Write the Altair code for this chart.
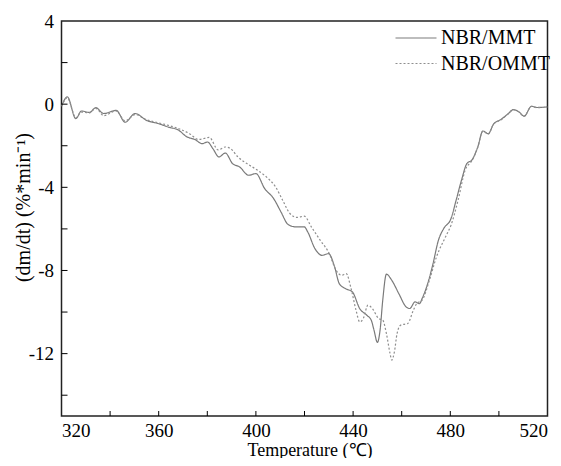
import altair as alt
import pandas as pd

# NBR/MMT (solid)
mmt_x = [320, 322.4, 325.9, 328.2, 331.5, 334.1, 337.4, 342.5, 346.2, 350.3, 355, 360, 363.9, 368.3,
         371.3, 374.9, 377.9, 380.1, 382.3, 384.8, 387.4, 390.4, 393.3, 397, 400, 403.6, 407.3, 410.3,
         413.2, 416.2, 419.9, 421.3, 424.3, 427.2, 429.9, 432.4, 434.3, 436.8, 439.7, 442.7, 445.6,
         447.5, 448.6, 450, 451.1, 452.2, 453.7, 455.9, 458.8, 461.8, 463.3, 465.5, 467.3, 468.4, 470.7,
         472.9, 475.1, 477.3, 480.3, 482.4, 484.6, 486.8, 489, 491.3, 493.4, 495.6, 497.9, 500.8, 503.8,
         506, 508.2, 510.4, 513.4, 515.6, 520]
mmt_y = [-0.1, 0.35, -0.7, -0.33, -0.4, -0.17, -0.45, -0.3, -0.87, -0.45, -0.78, -0.94, -1.1, -1.26,
         -1.55, -1.7, -1.9, -1.82, -2.14, -2.54, -2.35, -2.86, -3.02, -3.42, -3.34, -4.06, -4.54, -5.18,
         -5.78, -5.9, -5.9, -6.14, -6.95, -7.27, -7.19, -7.83, -8.63, -8.87, -9.03, -9.83, -10.15,
         -10.4, -10.87, -11.46, -10.87, -9.43, -8.18, -8.47, -9.11, -9.75, -9.83, -9.51, -9.6, -9.35, -8.63,
         -7.67, -6.55, -5.98, -5.5, -4.62, -3.66, -2.86, -2.67, -2.06, -1.29, -1.42, -0.94, -0.74, -0.46,
         -0.26, -0.37, -0.58, -0.1, -0.16, -0.13]

# NBR/OMMT (dotted)
ommt_x = [320, 322.4, 325.9, 328.2, 331.5, 334.1, 337.4, 342.5, 346.2, 350.3, 355, 360, 364, 368.3,
          372.7, 376.4, 380.8, 384.5, 387.4, 389.6, 392.6, 396.3, 400.7, 404.3, 408.1, 411, 414, 416.9,
          419.9, 422.8, 426.5, 430.2, 433, 435.3, 437.2, 439, 441.2, 442.7, 444.2, 446.1, 447.9, 450.5,
          452.2, 453.7, 455.2, 455.9, 457, 458.1, 459.6, 462.5, 464.8, 466.2, 468.4, 471.4, 474.3, 478,
          480.3, 483.2, 486.1, 489, 491.3, 493.4, 495.6, 497.9, 500.8, 503.8, 506, 508.2, 510.4, 513.4,
          515.6, 520]
ommt_y = [-0.1, 0.3, -0.65, -0.38, -0.42, -0.2, -0.55, -0.33, -0.8, -0.5, -0.75, -0.9, -1.02, -1.18,
          -1.42, -1.7, -1.6, -2.2, -2.06, -2.14, -2.54, -2.86, -3.18, -3.5, -3.98, -4.62, -5.26, -5.45,
          -5.39, -5.9, -6.55, -7.19, -7.99, -8.23, -8.15, -8.79, -9.91, -10.47, -10.31, -9.67, -9.83, -10.31,
          -10.39, -11.03, -11.99, -12.31, -11.91, -11.03, -10.63, -10.55, -9.91, -9.59, -9.43, -8.47, -7.35, -6.39,
          -5.82, -4.62, -3.18, -2.7, -2.08, -1.3, -1.44, -0.95, -0.76, -0.47, -0.27, -0.38, -0.57, -0.11,
          -0.17, -0.14]

series = ["NBR/MMT", "NBR/OMMT"]
x_ticks = [340, 360, 380, 400, 420, 440, 460, 480, 500]
y_ticks = [-14, -12, -10, -8, -6, -4, -2, 0, 2]
x_labels = [320, 360, 400, 440, 480, 520]
y_labels = [-12, -8, -4, 0, 4]

W, H = 486, 395
FONT = "Liberation Serif, Times New Roman, Times, serif"

df = pd.concat([
    pd.DataFrame({"T": mmt_x, "v": mmt_y, "s": series[0], "o": range(len(mmt_x))}),
    pd.DataFrame({"T": ommt_x, "v": ommt_y, "s": series[1], "o": range(len(ommt_x))}),
])

xs = alt.Scale(domain=[320, 520], nice=False, zero=False)
ys = alt.Scale(domain=[-15, 4], nice=False, zero=False)

xa = alt.Axis(
    values=x_labels, ticks=False, tickSize=0, grid=False, domain=False,
    labelFontSize=19, labelFont=FONT, labelColor="black", labelPadding=5,
    title="Temperature (℃)", titleFont=FONT, titleFontSize=18, titleFontWeight="normal",
    titleColor="black", titleBaseline="middle", titleX=W / 2 + 5, titleY=34)
ya = alt.Axis(
    values=y_labels, ticks=False, tickSize=0, grid=False, domain=False,
    labelExpr="'' + datum.value",
    labelFontSize=19, labelFont=FONT, labelColor="black", labelPadding=8,
    title="(dm/dt) (%*min⁻¹)", titleFont=FONT, titleFontSize=20, titleFontWeight="normal",
    titleColor="black", titleBaseline="middle", titleX=-38.5, titleY=186)

leg = dict(title=None, orient="none", legendX=343.5, legendY=6,
           symbolType="M-2,0H2", symbolSize=420, symbolStrokeWidth=1.2,
           labelFont=FONT, labelFontSize=20, labelColor="black",
           labelOffset=14, rowPadding=4.5, padding=0)

lines = alt.Chart(df).mark_line(strokeWidth=1.2, clip=True, interpolate="monotone").encode(
    x=alt.X("T:Q", scale=xs, axis=xa, title="Temperature (℃)"),
    y=alt.Y("v:Q", scale=ys, axis=ya, title="(dm/dt) (%*min⁻¹)"),
    color=alt.Color("s:N", scale=alt.Scale(domain=series, range=["#7a7a7a", "#8e8e8e"]),
                    legend=alt.Legend(**leg)),
    strokeDash=alt.StrokeDash("s:N", scale=alt.Scale(domain=series, range=[[1, 0], [2, 2]]),
                              legend=alt.Legend(**leg)),
    order="o:Q",
)

xt = alt.Chart(pd.DataFrame({"t": x_ticks})).mark_rule(color="black", strokeWidth=1).encode(
    x=alt.X("t:Q", scale=xs, axis=xa, title="Temperature (℃)"), y=alt.value(H), y2=alt.value(H - 5))
yt = alt.Chart(pd.DataFrame({"t": y_ticks})).mark_rule(color="black", strokeWidth=1).encode(
    y=alt.Y("t:Q", scale=ys, axis=ya, title="(dm/dt) (%*min⁻¹)"), x=alt.value(0), x2=alt.value(6))

chart = alt.layer(lines, xt, yt).properties(
    width=W, height=H, background="white",
    autosize=alt.AutoSizeParams(type="none"),
    padding={"left": 53.5, "top": 13, "right": 5, "bottom": 42},
).configure_view(stroke="#222222", strokeWidth=1.5)

chart.save("out.html", embed_options={"renderer": "svg", "actions": False})
